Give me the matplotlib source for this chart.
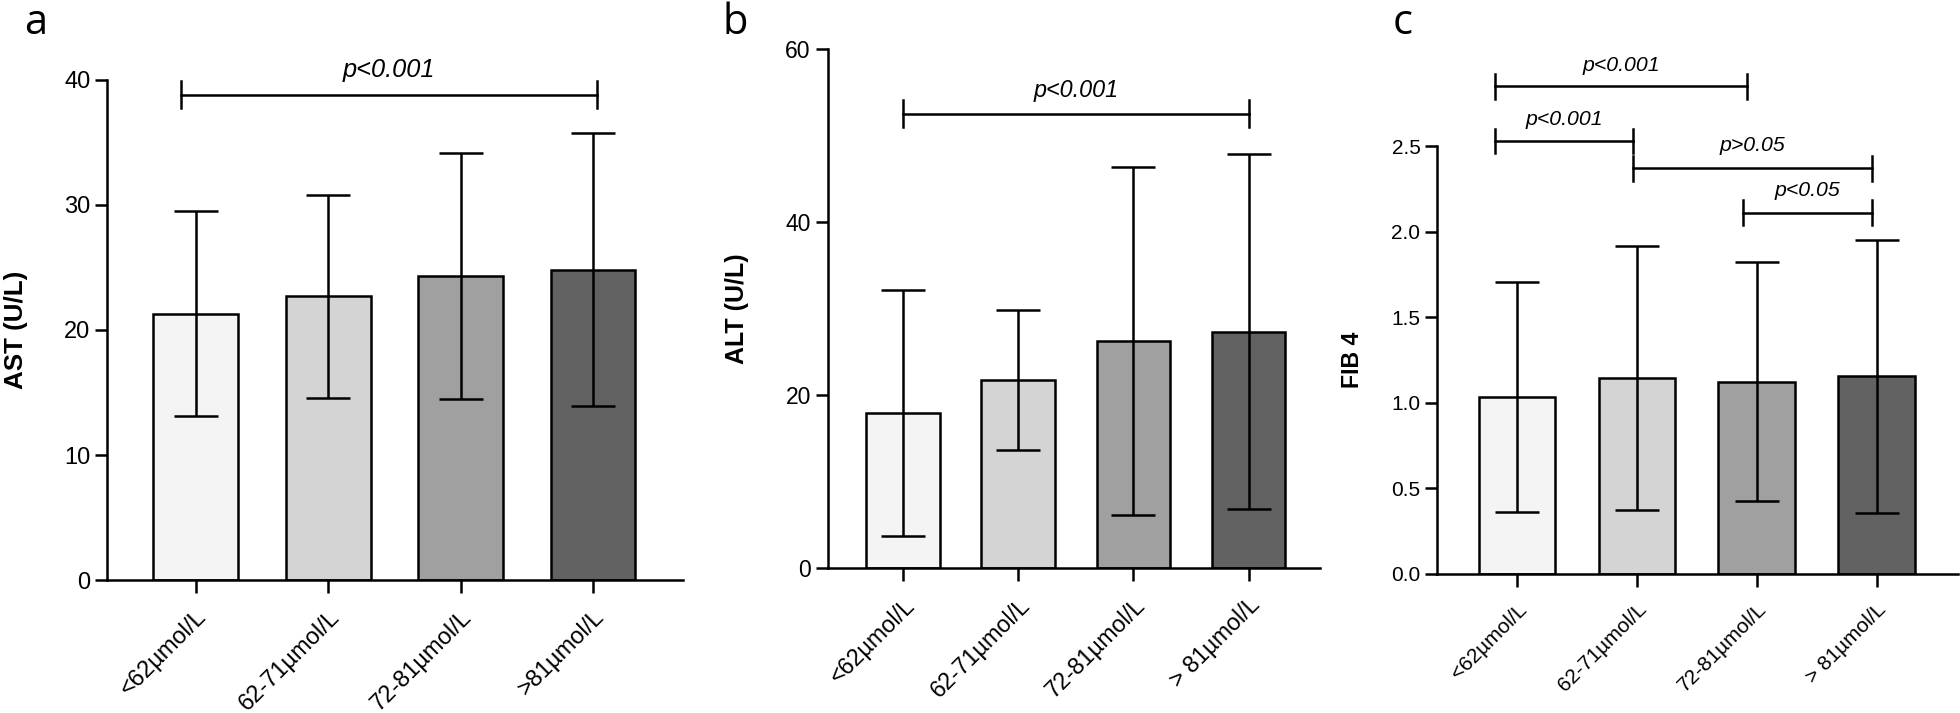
import matplotlib
matplotlib.use("Agg")
import matplotlib.pyplot as plt
from matplotlib.transforms import ScaledTranslation
import numpy as np

OUTPUT_PLOT_FILE = "out.png"

# creatinine groups
groups_a = ["<62µmol/L", "62-71µmol/L", "72-81µmol/L", ">81µmol/L"]
groups_bc = ["<62µmol/L", "62-71µmol/L", "72-81µmol/L", "> 81µmol/L"]

# mean and SD per group
ast_mean = [21.3, 22.7, 24.3, 24.8]
ast_sd = [8.2, 8.1, 9.8, 10.9]
alt_mean = [17.9, 21.7, 26.2, 27.3]
alt_sd = [14.2, 8.1, 20.1, 20.5]
fib4_mean = [1.035, 1.145, 1.125, 1.155]
fib4_sd = [0.67, 0.77, 0.70, 0.80]

# p-value labels of the comparisons
p_labels_a = ["p<0.001"]
p_labels_b = ["p<0.001"]
p_labels_c = ["p<0.001", "p<0.001", "p>0.05", "p<0.05"]

BAR_COLORS = ["#f4f4f4", "#d4d4d4", "#a0a0a0", "#626262"]
LW = 1.8
FONT = ["Liberation Sans", "DejaVu Sans"]


def draw_bars(fig, ax, labels, means, sds, ylim, yticks, ylabel, xlim,
              ytick_size, xtick_size, ylabel_size, fmt="{:g}"):
    x = np.arange(len(labels))
    ax.bar(x, means, width=0.64, color=BAR_COLORS, edgecolor="black",
           linewidth=LW, zorder=2)
    ax.errorbar(x, means, yerr=sds, fmt="none", ecolor="black",
                elinewidth=LW, capsize=15.8, capthick=LW, zorder=3)
    ax.set_xlim(*xlim)
    ax.set_ylim(*ylim)
    ax.set_yticks(yticks)
    ax.set_yticklabels([fmt.format(v) for v in yticks], fontsize=ytick_size,
                       family=FONT)
    ax.set_xticks(x)
    ax.set_xticklabels(labels, rotation=45, ha="right", va="top",
                       rotation_mode="anchor", fontsize=xtick_size, family=FONT)
    shift = ScaledTranslation(0.08, 0, fig.dpi_scale_trans)
    for lab in ax.get_xticklabels():
        lab.set_transform(lab.get_transform() + shift)
    ax.spines["top"].set_visible(False)
    ax.spines["right"].set_visible(False)
    ax.spines["left"].set_linewidth(LW)
    ax.spines["bottom"].set_linewidth(LW)
    ax.tick_params(axis="y", direction="out", length=8.4, width=LW, pad=3.6)
    ax.tick_params(axis="x", direction="out", length=9.4, width=LW, pad=9)
    ax.set_ylabel(ylabel, fontsize=ylabel_size, fontweight="bold", family=FONT)


def bracket(ax, x1, x2, y, half, label, text_y, size):
    kw = dict(color="black", linewidth=LW, clip_on=False, zorder=4)
    ax.plot([x1, x2], [y, y], **kw)
    ax.plot([x1, x1], [y - half, y + half], **kw)
    ax.plot([x2, x2], [y - half, y + half], **kw)
    ax.text((x1 + x2) / 2, text_y, label, ha="center", va="center",
            fontsize=size, style="italic", family=FONT)


def main():
    fig = plt.figure(figsize=(19.6, 7.13), dpi=100)

    ax_a = fig.add_axes([0.0546, 0.1861, 0.2939, 0.7023])
    ax_b = fig.add_axes([0.4222, 0.2034, 0.2513, 0.7283])
    ax_c = fig.add_axes([0.7332, 0.1950, 0.2658, 0.5997])

    draw_bars(fig, ax_a, groups_a, ast_mean, ast_sd, (0, 40),
              [0, 10, 20, 30, 40], "AST (U/L)", (-0.67, 3.68), 17, 17, 18.7)
    bracket(ax_a, -0.11, 3.03, 38.8, 1.1, p_labels_a[0], 40.8, 18.3)

    draw_bars(fig, ax_b, groups_bc, alt_mean, alt_sd, (0, 60),
              [0, 20, 40, 60], "ALT (U/L)", (-0.655, 3.62), 16.5, 16.8, 18)
    bracket(ax_b, 0, 3, 52.5, 1.55, p_labels_b[0], 55.2, 16.8)

    draw_bars(fig, ax_c, groups_bc, fib4_mean, fib4_sd, (0, 2.5),
              [0, 0.5, 1.0, 1.5, 2.0, 2.5], "FIB 4", (-0.667, 3.68),
              15, 15, 16.7, fmt="{:.1f}")
    bracket(ax_c, -0.18, 1.92, 2.851, 0.073, p_labels_c[0], 2.97, 15.3)
    bracket(ax_c, -0.18, 0.965, 2.532, 0.07, p_labels_c[1], 2.66, 15.3)
    bracket(ax_c, 0.965, 2.958, 2.372, 0.073, p_labels_c[2], 2.505, 15.3)
    bracket(ax_c, 1.888, 2.958, 2.112, 0.073, p_labels_c[3], 2.24, 15.3)

    ax_a.yaxis.set_label_coords(-0.138, 0.5)
    ax_b.yaxis.set_label_coords(-0.159, 0.5)
    ax_c.yaxis.set_label_coords(-0.140, 0.5)

    for letter, xpos in [("a", 24), ("b", 722), ("c", 1393)]:
        fig.text(xpos / 1960, 1 - 34 / 713, letter, fontsize=30,
                 family=["Open Sans", "DejaVu Sans"], ha="left",
                 va="baseline")

    fig.savefig(OUTPUT_PLOT_FILE, dpi=100)


if __name__ == "__main__":
    main()
